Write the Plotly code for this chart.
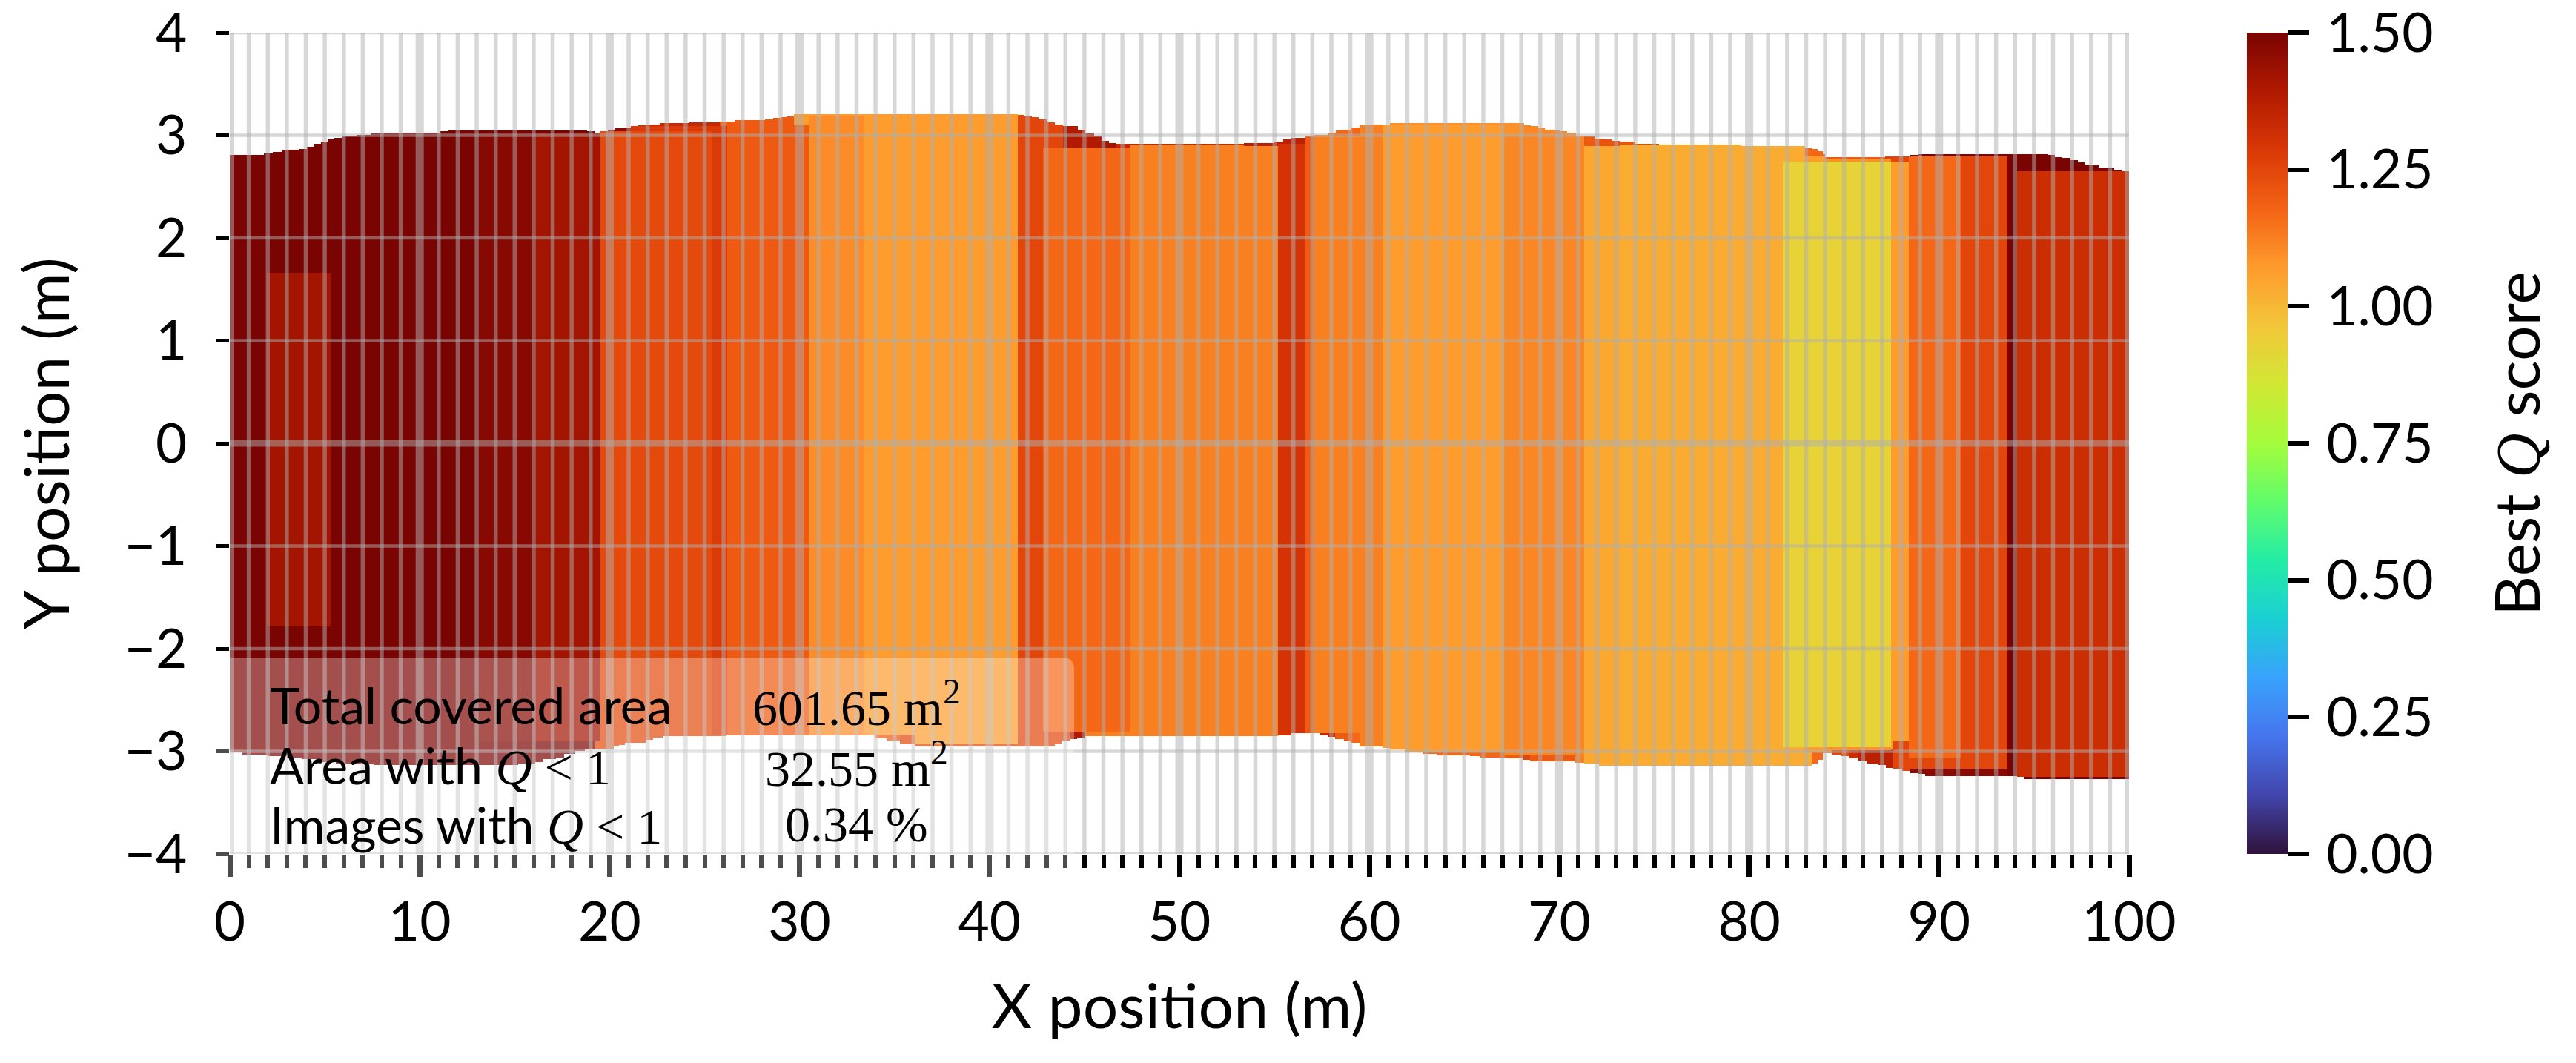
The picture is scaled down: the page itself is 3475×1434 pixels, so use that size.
import plotly.graph_objects as go

# upper edge of the covered area: right end of each step and its height
top_right = [1.79, 2.27, 2.74, 3.64, 4.04, 4.4, 4.8, 5.16, 5.5, 5.9, 6.3, 6.68, 7.47, 7.92, 11.1, 11.5, 18.8, 19.2, 19.5, 19.9,
             20.3, 20.7, 21.1, 21.5, 21.9, 22.65, 24.2, 25.8, 26.6, 28.2, 28.6, 29.0, 29.3, 29.7, 41.49, 41.85, 42.24, 42.6, 43.0, 43.46,
             43.86, 44.66, 45.06, 45.5, 45.9, 46.3, 46.67, 53.4, 55.0, 55.45, 55.84, 56.65, 57.05, 57.85, 58.25, 58.66, 59.07, 59.47, 59.9, 61.1,
             68.15, 68.5, 68.9, 69.25, 69.67, 70.04, 70.4, 70.87, 71.4, 71.86, 72.3, 72.8, 73.2, 74.0, 75.24, 79.6, 82.95, 83.34, 83.6, 83.87,
             84.0, 87.17, 88.5, 88.88, 95.75, 96.1, 96.5, 96.9, 97.3, 97.66, 98.05, 98.4, 98.8, 99.2, 99.6, 100]
top_y = [2.81, 2.82, 2.84, 2.86, 2.87, 2.89, 2.92, 2.94, 2.96, 2.976, 2.99, 3.0, 3.005, 3.02, 3.026, 3.04, 3.048, 3.04, 3.026, 3.04,
         3.055, 3.07, 3.077, 3.09, 3.098, 3.105, 3.12, 3.127, 3.134, 3.149, 3.156, 3.17, 3.178, 3.185, 3.206, 3.2, 3.185, 3.178, 3.156, 3.127,
         3.105, 3.09, 3.055, 3.02, 2.99, 2.947, 2.925, 2.915, 2.925, 2.94, 2.96, 2.976, 3.0, 3.005, 3.026, 3.048, 3.055, 3.077, 3.098, 3.105,
         3.12, 3.098, 3.09, 3.077, 3.055, 3.048, 3.04, 3.026, 3.0, 2.99, 2.97, 2.96, 2.947, 2.94, 2.918, 2.91, 2.897, 2.875, 2.868, 2.846,
         2.817, 2.79, 2.796, 2.81, 2.817, 2.81, 2.79, 2.78, 2.76, 2.738, 2.717, 2.71, 2.688, 2.68, 2.66, 2.652]

# lower edge of the covered area
bottom_right = [0.68, 2.0, 3.0, 3.8, 4.6, 5.6, 7.6, 15.2, 16.1, 16.5, 17.17, 17.6, 18.2, 18.7, 19.2, 20.2, 20.5, 20.8, 21.9, 22.3,
                22.8, 26.15, 34.0, 34.6, 35.3, 36.07, 43.46, 43.8, 44.27, 44.6, 45.06, 55.2, 55.9, 57.4, 57.8, 58.2, 58.66, 59.0, 59.47, 60.7,
                61.1, 61.87, 62.8, 63.6, 65.3, 65.8, 67.2, 68.07, 68.45, 70.8, 71.3, 72.1, 83.3, 83.6, 83.87, 84.34, 84.8, 85.26, 85.75, 86.2,
                86.76, 87.2, 87.6, 88.05, 88.5, 88.88, 89.27, 94.1, 94.47, 100]
bottom_y = [-3.012, -3.034, -3.048, -3.063, -3.077, -3.106, -3.128, -3.132, -3.118, -3.106, -3.077, -3.063, -3.027, -2.998, -2.981, -2.974, -2.952, -2.938, -2.916, -2.888,
            -2.866, -2.852, -2.844, -2.873, -2.895, -2.93, -2.952, -2.93, -2.895, -2.88, -2.866, -2.852, -2.844, -2.823, -2.844, -2.859, -2.88, -2.902, -2.916, -2.952,
            -2.967, -2.981, -3.01, -3.024, -3.039, -3.046, -3.06, -3.068, -3.082, -3.096, -3.11, -3.118, -3.14, -3.118, -3.082, -3.017, -3.032, -3.046, -3.068, -3.09,
            -3.118, -3.132, -3.161, -3.168, -3.19, -3.212, -3.219, -3.24, -3.248, -3.27]

# best Q along the two edges, by x range
top_q_right = [20.25, 21.1, 26.0, 30.5, 35.3, 41.49, 43.9, 45.9, 47.3, 53.4, 56.65, 57.05, 57.85, 59.47, 60.7, 68.15, 71.0, 71.9, 74.0, 75.24, 82.95, 83.87, 87.17, 88.5, 100]
top_q = [1.5, 1.47, 1.34, 1.2, 1.25, 1.07, 1.25, 1.39, 1.42, 1.34, 1.37, 1.2, 1.10, 1.17, 1.123, 1.09, 1.11, 1.2, 1.22, 1.25, 1.03, 1.17, 1.2, 1.25, 1.5]
bottom_q_right = [19.5, 26.2, 30.5, 35.3, 43.46, 44.3, 45.8, 47.4, 53.0, 55.2, 57.4, 58.2, 59.0, 59.47, 60.7, 62.8, 67.2, 68.07, 69.6, 70.8, 71.3, 72.1, 73.2, 83.3, 83.87, 84.34, 85.26, 85.75, 87.6, 88.5, 93.6, 100]
bottom_q = [1.5, 1.24, 1.22, 1.2, 1.25, 1.25, 1.39, 1.45, 1.123, 1.34, 1.3, 1.35, 1.2, 1.17, 1.123, 1.07, 1.17, 1.2, 1.25, 1.2, 1.123, 1.03, 1.2, 1.03, 1.17, 1.1, 1.25, 1.32, 1.37, 1.25, 1.47, 1.5]

# inner blocks, painted in this order
block_x0 = [1.95, 13.1, 16.1, 21.1, 19.5, 25.4, 26.2, 30.5, 33.4, 36.07, 41.49, 42.8, 47.4, 53.4, 55.2, 56.65, 57.05, 60.7, 62.8, 67.1, 71.3, 73.2, 79.6, 82.95, 84.0, 81.77, 87.47, 87.6, 88.4, 91.15, 93.6, 94.1]
block_x1 = [5.3, 16.1, 19.5, 25.4, 25.4, 26.2, 30.5, 33.4, 36.07, 41.49, 42.8, 47.4, 53.4, 55.2, 56.65, 57.05, 60.7, 62.8, 67.1, 71.3, 73.2, 79.6, 82.95, 84.0, 87.47, 87.47, 88.4, 91.15, 91.15, 93.6, 94.1, 100]
block_y0 = [-1.78, -2.9, -2.9, 3.0, -2.835, -2.84, -2.84, -2.84, -2.84, -2.93, -2.95, -2.808, -2.85, -2.85, -2.8, -2.82, -2.82, -2.95, -3.01, -3.04, -3.118, -3.14, -3.14, -3.0, -2.99, -2.96, -2.98, -3.168, -3.065, -3.168, -3.24, -3.248]
block_y1 = [1.66, 3.02, 3.02, 3.09, 3.04, 3.09, 3.1, 3.19, 3.195, 3.195, 3.0, 2.875, 2.91, 2.897, 2.92, 2.99, 3.0, 3.1, 3.1, 2.99, 2.897, 2.91, 2.897, 2.8, 2.77, 2.745, 2.745, -2.9, 2.796, 2.796, 2.81, 2.652]
block_q = [1.42, 1.475, 1.42, 1.28, 1.24, 1.28, 1.2, 1.10, 1.07, 1.07, 1.25, 1.17, 1.123, 1.123, 1.30, 1.2, 1.123, 1.07, 1.07, 1.11, 1.04, 1.03, 1.03, 1.07, 1.09, 0.925, 1.07, 1.25, 1.17, 1.25, 1.5, 1.32]

x_major = [0, 10, 20, 30, 40, 50, 60, 70, 80, 90, 100]
x_minor = [v for v in range(0, 101) if v % 10 != 0]
y_ticks = [-4, -3, -2, -1, 1, 2, 3, 4]
y_zero = [0]
cbar_ticks = [0, 0.25, 0.5, 0.75, 1.0, 1.25, 1.5]

stat_labels = ["Total covered area", "Area with {q}", "Images with {q}"]
stat_values = ["601.65 m<sup>2</sup>", "32.55 m<sup>2</sup>", "0.34 %"]

# plot area in page pixels; the page body adds its own 8px margin
PAGE_W, PAGE_H, BODY = 3475, 1434, 8
LEFT, RIGHT, TOP, BOTTOM = 310, 2872, 44, 1152
SANS = "Lato"
SERIF = "Liberation Serif"
GRID = "rgba(176,176,176,0.5)"
TICK_SIZE = 73
TITLE_SIZE = 84
STAT_SIZE = 68


def px_x(px):
    return (px - LEFT) / (RIGHT - LEFT)


def px_y(py):
    return (BOTTOM - py) / (BOTTOM - TOP)


def serif(text):
    return f"<span style=\"font-family:'{SERIF}'\">{text}</span>"


def steps(right, values):
    left = [0] + right[:-1]
    mid = [(a + b) / 2 for a, b in zip(left, right)]
    width = [b - a for a, b in zip(left, right)]
    return mid, width, values


def q_lookup(xs, right, q):
    out = []
    for x in xs:
        for r, v in zip(right, q):
            if x <= r:
                out.append(v)
                break
    return out


def grid_trace(xs, ys, width):
    return go.Scatter(x=xs, y=ys, mode="lines", line=dict(color=GRID, width=width),
                      hoverinfo="skip", showlegend=False)


def v_lines(vals):
    xs, ys = [], []
    for v in vals:
        xs += [v, v, None]
        ys += [-4, 4, None]
    return xs, ys


def h_lines(vals):
    xs, ys = [], []
    for v in vals:
        xs += [0, 100, None]
        ys += [v, v, None]
    return xs, ys


fig = go.Figure()

# outer silhouette, split at y=0
mid, width, tops = steps(top_right, top_y)
fig.add_trace(go.Bar(x=mid, width=width, base=[0] * len(mid), y=tops,
                     marker=dict(color=q_lookup(mid, top_q_right, top_q), coloraxis="coloraxis", line=dict(width=0)),
                     hoverinfo="skip", showlegend=False))
mid, width, bottoms = steps(bottom_right, bottom_y)
fig.add_trace(go.Bar(x=mid, width=width, base=[0] * len(mid), y=bottoms,
                     marker=dict(color=q_lookup(mid, bottom_q_right, bottom_q), coloraxis="coloraxis", line=dict(width=0)),
                     hoverinfo="skip", showlegend=False))

# inner blocks, one trace each so the paint order holds
for x0, x1, y0, y1, q in zip(block_x0, block_x1, block_y0, block_y1, block_q):
    fig.add_trace(go.Bar(x=[(x0 + x1) / 2], width=[x1 - x0], base=[y0], y=[y1 - y0],
                         marker=dict(color=[q], coloraxis="coloraxis", line=dict(width=0)),
                         hoverinfo="skip", showlegend=False))

# grid sits over the data
fig.add_trace(grid_trace(*v_lines(x_minor), 5.5))
fig.add_trace(grid_trace(*v_lines(x_major), 11))
fig.add_trace(grid_trace(*h_lines(y_ticks), 4.7))
fig.add_trace(grid_trace(*h_lines(y_zero), 9))

fig.update_layout(
    width=PAGE_W - 2 * BODY, height=PAGE_H - 2 * BODY,
    margin=dict(l=LEFT - BODY, r=PAGE_W - BODY - RIGHT, t=TOP - BODY, b=PAGE_H - BODY - BOTTOM, autoexpand=False),
    paper_bgcolor="white", plot_bgcolor="white",
    barmode="overlay", bargap=0,
    font=dict(family=SANS, size=TICK_SIZE, color="black"),
    coloraxis=dict(
        colorscale="Turbo", cmin=0, cmax=1.5,
        colorbar=dict(
            x=px_x(3031), xanchor="left", y=0.5, yanchor="middle", len=1, lenmode="fraction",
            thickness=55, thicknessmode="pixels", xpad=0, ypad=0, outlinewidth=0,
            tickmode="array", tickvals=cbar_ticks, ticktext=[f"\u2009{v:.2f}" for v in cbar_ticks],
            ticks="outside", ticklen=29, tickwidth=6, tickcolor="black",
            tickfont=dict(family=SANS, size=TICK_SIZE), ticklabeloverflow="allow",
        ),
    ),
    xaxis=dict(
        range=[0, 100], tickmode="array", tickvals=x_major, ticks="outside", ticklen=30, tickwidth=7,
        tickcolor="black", showgrid=False, zeroline=False, showline=False,
        minor=dict(tickmode="array", tickvals=x_minor, ticks="outside", ticklen=18, tickwidth=5.5, tickcolor="black", showgrid=False),
        title=dict(text="X position (m)", standoff=44, font=dict(family=SANS, size=TITLE_SIZE)),
        ticklabelstandoff=-2, ticklabeloverflow="allow",
    ),
    yaxis=dict(
        range=[-4, 4], tickmode="array", tickvals=y_ticks + y_zero, ticks="outside", ticklen=17, tickwidth=5,
        tickcolor="black", showgrid=False, zeroline=False, showline=False,
        title=dict(text="Y position (m)", standoff=46, font=dict(family=SANS, size=TITLE_SIZE)),
        ticklabelstandoff=25, ticklabeloverflow="allow",
    ),
)

# legend box, rounded, drawn over data, grid and the ticks
x0, x1 = px_x(290), px_x(1449)
y0, y1 = px_y(1192), px_y(887)
rx, ry = 16 / (RIGHT - LEFT), 16 / (BOTTOM - TOP)
box = (f"M {x0 + rx} {y0} L {x1 - rx} {y0} Q {x1} {y0} {x1} {y0 + ry} L {x1} {y1 - ry} Q {x1} {y1} {x1 - rx} {y1} "
       f"L {x0 + rx} {y1} Q {x0} {y1} {x0} {y1 - ry} L {x0} {y0 + ry} Q {x0} {y0} {x0 + rx} {y0} Z")
fig.add_shape(type="path", path=box, xref="paper", yref="paper", fillcolor="rgba(255,255,255,0.3)", line=dict(width=0), layer="above")

q_text = serif("<i>Q</i> &lt; 1")
for label, value, py in zip(stat_labels, stat_values, [950, 1032, 1112]):
    fig.add_annotation(x=px_x(362), y=px_y(py), xref="paper", yref="paper", xanchor="left", yanchor="middle", showarrow=False,
                       text=label.format(q=q_text), font=dict(family=SANS, size=STAT_SIZE, color="black"))
    fig.add_annotation(x=px_x(1155), y=px_y(py), xref="paper", yref="paper", xanchor="center", yanchor="middle", showarrow=False,
                       text=serif(value), font=dict(family=SERIF, size=STAT_SIZE, color="black"))

fig.add_annotation(x=px_x(3393), y=0.5, xref="paper", yref="paper", xanchor="center", yanchor="middle", showarrow=False,
                   textangle=-90, text="Best " + serif("<i>Q</i>") + " score", font=dict(family=SANS, size=TITLE_SIZE, color="black"))

fig.write_html("out.html")
